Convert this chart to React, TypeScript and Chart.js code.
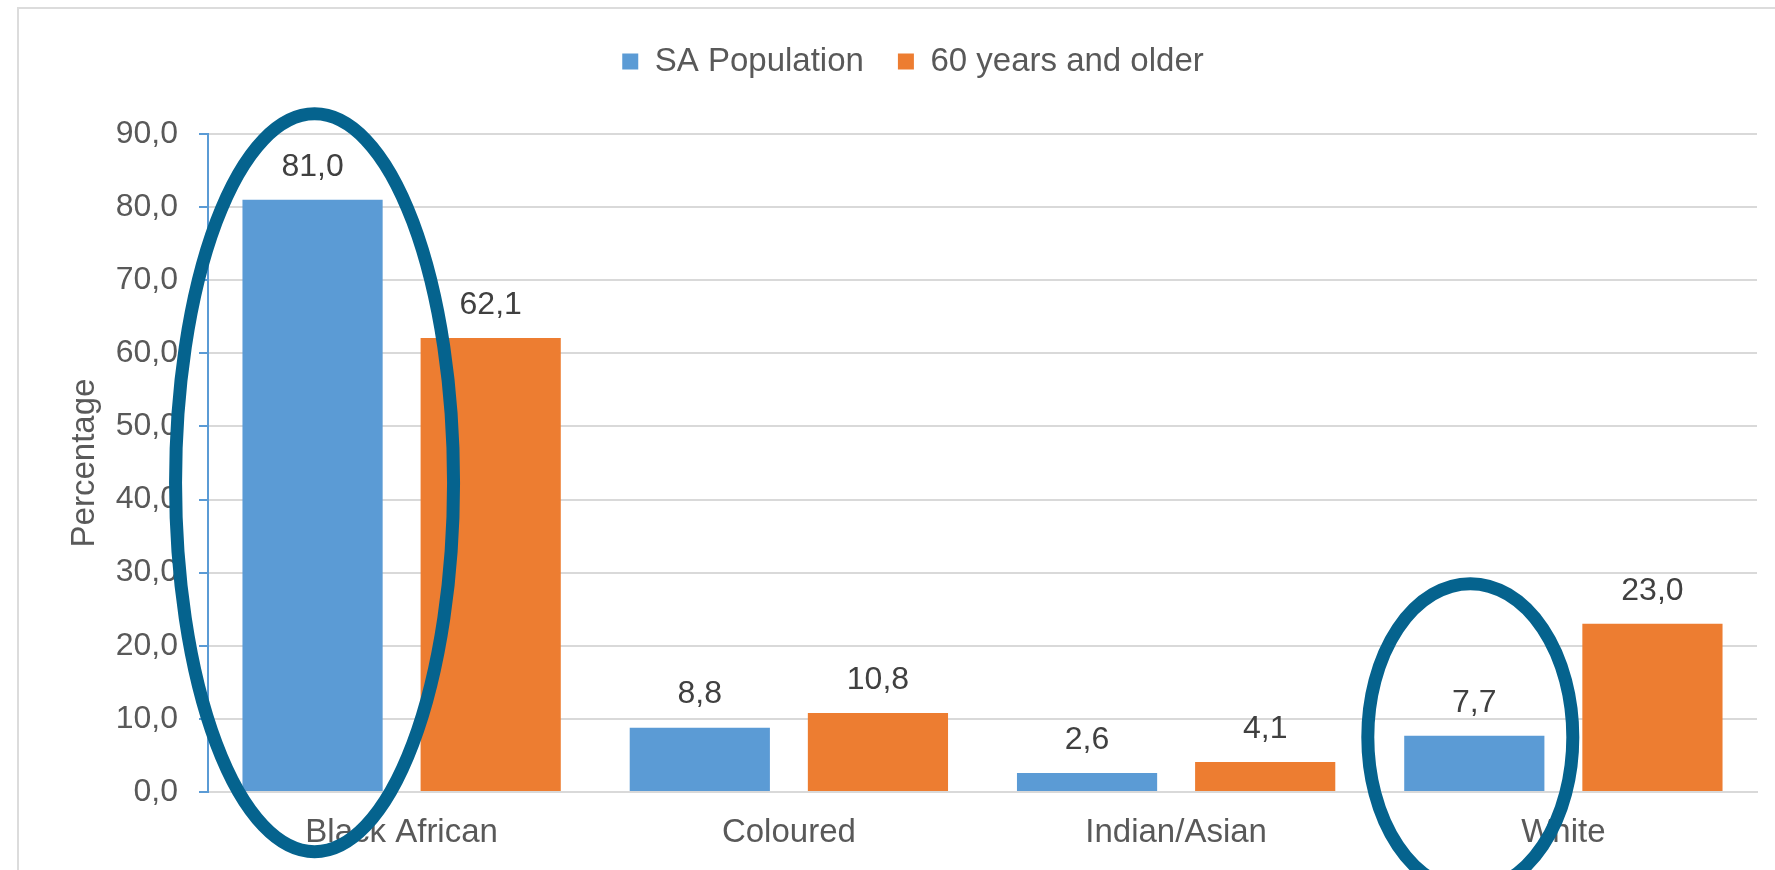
import React, { useEffect, useRef } from 'react';
import { Chart, registerables } from 'chart.js';

Chart.register(...registerables);

// ---- data ----
const categories = ['Black African', 'Coloured', 'Indian/Asian', 'White'];
const seriesNames = ['SA Population', '60 years and older'];
const saPopulation = [81.0, 8.8, 2.6, 7.7];
const olderPopulation = [62.1, 10.8, 4.1, 23.0];
const yTickValues = [0, 10, 20, 30, 40, 50, 60, 70, 80, 90];
const yTickLabels = ['0,0', '10,0', '20,0', '30,0', '40,0', '50,0', '60,0', '70,0', '80,0', '90,0'];
const yAxisTitle = 'Percentage';
// highlighted bars: [datasetIndex, categoryIndex]
const highlightedBars = [
  [0, 0],
  [0, 3],
];

// ---- styles ----
const FONT = "'Liberation Sans', Arial, Helvetica, sans-serif";
const TEXT = '#595959';
const LABEL = '#404040';
const BLUE = '#5B9BD5';
const ORANGE = '#ED7D31';
const GRID = '#d9d9d9';
const RING = '#05638e';
const HIGHLIGHT_SHAPES = [
  { centerValue: 42.3, rx: 139, ry: 369, dx: 2 },
  { centerValue: 7.5, rx: 102.5, ry: 153.5, dx: -4 },
];

const fmt = (v: number) => v.toFixed(1).replace('.', ',');

export default function App() {
  const ref = useRef<HTMLCanvasElement>(null);

  useEffect(() => {
    const canvas = ref.current;
    if (!canvas) return;

    const valueLabels = {
      id: 'valueLabels',
      afterDatasetsDraw(chart: any) {
        const ctx = chart.ctx;
        ctx.save();
        ctx.font = `32px ${FONT}`;
        ctx.fillStyle = LABEL;
        ctx.textAlign = 'center';
        ctx.textBaseline = 'middle';
        chart.data.datasets.forEach((ds: any, di: number) => {
          const meta = chart.getDatasetMeta(di);
          meta.data.forEach((bar: any, i: number) => {
            ctx.fillText(fmt(ds.data[i] as number), bar.x, bar.y - 33);
          });
        });
        ctx.restore();
      },
    };

    const highlights = {
      id: 'highlights',
      afterDraw(chart: any) {
        const ctx = chart.ctx;
        const y = chart.scales.y;
        ctx.save();
        ctx.strokeStyle = RING;
        ctx.lineWidth = 13;
        highlightedBars.forEach(([di, ci], k) => {
          const bar = chart.getDatasetMeta(di).data[ci];
          const s = HIGHLIGHT_SHAPES[k];
          ctx.beginPath();
          ctx.ellipse(bar.x + s.dx, y.getPixelForValue(s.centerValue), s.rx, s.ry, 0, 0, Math.PI * 2);
          ctx.stroke();
        });
        ctx.restore();
      },
    };

    const chart = new Chart(canvas, {
      type: 'bar',
      data: {
        labels: categories,
        datasets: [
          {
            label: seriesNames[0],
            data: saPopulation,
            backgroundColor: BLUE,
            borderWidth: 0,
            categoryPercentage: 0.92,
            barPercentage: 0.787,
            xAxisID: 'x',
            yAxisID: 'y',
          },
          {
            label: seriesNames[1],
            data: olderPopulation,
            backgroundColor: ORANGE,
            borderWidth: 0,
            categoryPercentage: 0.92,
            barPercentage: 0.787,
            xAxisID: 'x',
            yAxisID: 'y',
          },
        ],
      },
      options: {
        responsive: false,
        animation: false,
        layout: { padding: { top: 11, left: 0, right: 0, bottom: 20.4 } },
        plugins: {
          legend: {
            position: 'top',
            labels: {
              boxWidth: 16,
              boxHeight: 16,
              padding: 34,
              color: TEXT,
              font: { family: FONT, size: 33 },
            },
          },
          title: {
            display: true,
            text: ' ',
            weight: 500,
            padding: { top: 0, bottom: 36 },
            font: { size: 10, lineHeight: 1 },
          },
          tooltip: { enabled: false },
        },
        scales: {
          x: {
            grid: { display: false, drawTicks: false },
            border: { color: GRID, width: 2 },
            ticks: {
              color: TEXT,
              font: { family: FONT, size: 33 },
              padding: 21,
              maxRotation: 0,
              autoSkip: false,
            },
          },
          y: {
            position: 'left',
            min: 0,
            max: 90,
            afterFit: (s: any) => {
              s.width = 208;
            },
            afterBuildTicks: (s: any) => {
              s.ticks = yTickValues.map((v) => ({ value: v }));
            },
            ticks: {
              color: TEXT,
              font: { family: FONT, size: 32 },
              padding: 21,
              callback: (_v: any, i: number) => yTickLabels[i],
            },
            grid: {
              color: GRID,
              lineWidth: 2,
              tickColor: BLUE,
              tickLength: 9,
              tickWidth: 2,
            },
            border: { color: BLUE, width: 2 },
            title: {
              display: true,
              text: yAxisTitle,
              color: TEXT,
              font: { family: FONT, size: 33 },
              padding: { top: 65, bottom: 0 },
            },
          },
          y2: {
            position: 'right',
            display: true,
            afterFit: (s: any) => {
              s.width = 69;
            },
            grid: { display: false, drawTicks: false },
            border: { display: false },
            ticks: { display: false },
          },
        },
      } as any,
      plugins: [valueLabels, highlights],
    });

    return () => chart.destroy();
  }, []);

  return (
    <div
      style={{
        position: 'fixed',
        left: 0,
        top: 0,
        width: 1775,
        height: 870,
        overflow: 'hidden',
        background: '#fff',
      }}
    >
      <div
        style={{
          position: 'absolute',
          left: 17,
          top: 7,
          width: 1900,
          height: 1000,
          border: '2px solid #dcdcdc',
          boxSizing: 'border-box',
        }}
      />
      <canvas
        ref={ref}
        width={1826}
        height={894}
        style={{ position: 'absolute', left: 0, top: 0, width: 1826, height: 894 }}
      />
    </div>
  );
}
